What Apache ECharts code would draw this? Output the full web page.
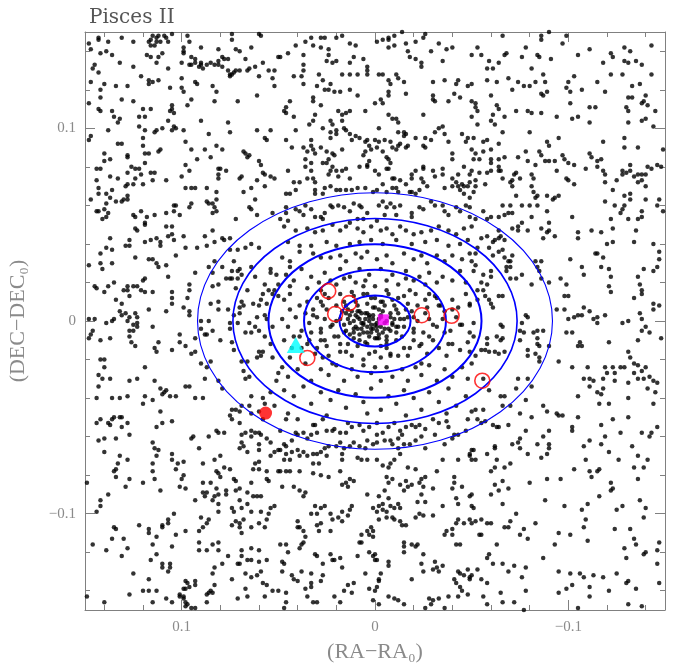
<!DOCTYPE html>
<html><head><meta charset="utf-8">
<script src="https://cdn.jsdelivr.net/npm/echarts@6.0.0/dist/echarts.min.js"></script>
<style>html,body{margin:0;padding:0;background:#fff}#c{width:678px;height:666px}</style>
</head><body><div id="c"></div>
<script>
// Star positions in units of 0.001 (RA-RA0, DEC-DEC0)
const starsNW=[[148,144],[147,141],[143,147],[143,146],[138,145],[131,147],[125,145],[117,145],[116,146],[115,148],[113,147],[113,145],[114,143],[116,143],[112,148],[109,148],[108,147],[111,145],[107,145],[105,149],[142,139],[139,140],[136,138],[132,134],[125,132],[118,138],[116,137],[113,134],[112,137],[110,139],[107,131],[121,127],[117,125],[117,123],[115,124],[112,125],[145,133],[146,131],[143,129],[147,124],[140,123],[134,122],[128,122],[142,120],[142,116],[148,113],[131,115],[125,114],[143,110],[142,109],[136,109],[135,106],[133,103],[132,105],[120,110],[116,110],[122,106],[119,106],[122,101],[119,99],[138,99],[147,96],[148,94],[120,95],[120,91],[133,92],[131,92],[114,98],[113,99],[110,100],[107,104],[106,109],[105,110],[104,108],[105,112],[105,99],[104,101],[103,100],[112,88],[111,89],[119,87],[140,87],[140,83],[137,84],[128,85],[128,86],[144,79],[142,79],[126,80],[124,79],[122,79],[119,82],[117,87],[116,77],[114,77],[137,75],[133,74],[128,77],[124,74],[121,76],[125,71],[120,71],[144,73],[115,73],[108,73],[143,69],[143,66],[139,66],[137,64],[136,68],[129,70],[128,71],[128,65],[130,63],[134,62],[131,62],[128,63],[147,63],[139,61],[144,57],[143,57],[140,58],[138,56],[139,54],[141,53],[125,55],[124,54],[121,57],[118,54],[114,55],[119,51],[108,56],[104,60],[103,60],[104,57],[101,55],[100,134],[99,142],[99,140],[99,139],[96,145],[97,148],[95,137],[93,136],[93,134],[95,133],[96,133],[90,142],[91,132],[90,133],[89,131],[90,134],[87,133],[85,134],[83,133],[81,133],[79,132],[81,135],[79,137],[78,136],[76,136],[81,141],[74,146],[74,149],[72,141],[70,140],[76,130],[75,128],[74,128],[73,129],[75,127],[72,130],[70,130],[66,130],[65,131],[67,136],[64,142],[60,149],[59,148],[62,132],[58,134],[55,130],[52,130],[53,126],[52,122],[60,127],[50,137],[93,124],[92,123],[100,126],[106,121],[100,121],[99,119],[95,115],[97,112],[84,122],[82,119],[83,114],[71,114],[61,117],[90,104],[99,99],[98,93],[95,89],[92,84],[88,89],[86,97],[85,85],[82,91],[79,89],[76,103],[75,98],[61,99],[57,95],[56,94],[54,99],[68,88],[67,87],[66,85],[65,86],[60,83],[59,81],[81,79],[80,79],[77,78],[81,76],[81,74],[98,81],[96,78],[100,75],[70,74],[69,75],[61,73],[58,77],[57,76],[54,75],[52,74],[98,69],[95,69],[93,69],[87,69],[64,69],[57,70],[82,67],[68,67],[87,62],[86,61],[84,61],[83,59],[82,57],[84,56],[82,63],[95,61],[96,59],[65,59],[64,58],[62,63],[61,55],[72,53],[53,56]];
const starsN=[[49,137],[45,139],[41,143],[36,145],[33,147],[32,143],[28,147],[26,147],[28,142],[24,141],[24,138],[25,135],[22,134],[20,135],[17,148],[13,144],[10,143],[6,136],[13,134],[11,137],[4,132],[4,130],[4,128],[9,128],[13,128],[17,128],[20,147],[-1,145],[-4,146],[-7,147],[-7,146],[-7,142],[-10,148],[-14,150],[-10,143],[-16,144],[-17,140],[-18,137],[-21,145],[-21,136],[-24,134],[-24,132],[-29,140],[-33,144],[-37,141],[-40,142],[-35,135],[-26,149],[-25,147],[37,138],[37,133],[37,130],[38,127],[37,123],[42,127],[29,128],[27,125],[30,122],[23,123],[26,120],[24,120],[21,119],[18,119],[13,120],[9,117],[-2,128],[-4,128],[-7,125],[-8,123],[-11,128],[-12,126],[-15,124],[-16,118],[-7,119],[-7,117],[-3,115],[-4,113],[0,113],[-30,124],[-30,117],[-31,114],[-30,115],[-36,125],[-38,114],[-42,123],[-43,125],[-41,118],[-44,116],[-48,122],[-50,114],[32,116],[32,114],[28,112],[46,111],[47,109],[46,108],[44,114],[42,106],[34,102],[32,104],[31,107],[27,100],[23,104],[22,102],[19,109],[17,107],[17,104],[15,108],[13,109],[23,98],[20,99],[20,97],[16,100],[5,109],[41,99],[46,94],[43,90],[37,90],[35,88],[36,84],[33,94],[33,91],[32,89],[31,87],[28,90],[25,88],[23,95],[22,87],[24,84],[21,86],[17,89],[15,99],[13,97],[12,94],[10,96],[8,95],[5,93],[4,94],[3,91],[2,89],[0,94],[-1,90],[5,88],[6,86],[3,83],[4,81],[-2,100],[-2,93],[-4,88],[-5,94],[-6,85],[-7,107],[-9,105],[-11,105],[-12,103],[-12,98],[-15,98],[-16,97],[-8,93],[-9,90],[-11,89],[-12,91],[-13,92],[-16,90],[-17,91],[-15,96],[-21,95],[-26,95],[-25,91],[-26,90],[-29,94],[-31,98],[-33,100],[-35,101],[-36,97],[-38,93],[-40,87],[-40,84],[-45,97],[-48,95],[-47,93],[-25,107],[45,78],[42,72],[39,72],[46,66],[44,66],[41,68],[35,74],[36,80],[33,78],[33,82],[32,74],[31,72],[31,68],[31,66],[27,82],[25,82],[23,78],[24,76],[22,80],[20,78],[19,75],[17,78],[15,79],[13,74],[8,80],[4,80],[0,78],[-2,76],[-4,71],[-6,79],[-7,79],[-7,84],[-8,82],[-9,74],[-10,74],[-13,73],[-16,71],[-19,74],[-19,76],[-21,78],[-25,79],[-25,80],[-24,74],[-25,72],[-27,70],[-23,68],[-19,67],[-21,66],[-18,67],[-11,69],[-9,69],[-12,67],[-6,67],[-1,68],[1,67],[5,69],[9,69],[12,68],[15,68],[18,68],[23,70],[20,68],[26,69],[27,66],[-30,78],[-31,75],[-35,79],[-35,76],[-36,69],[-40,70],[-42,72],[-43,70],[-45,71],[-46,70],[-48,70],[-49,72],[-44,68],[-46,66],[-49,64],[-43,76],[-46,80],[-40,74],[-50,78],[46,59],[46,56],[41,58],[39,57],[37,55],[36,60],[33,58],[31,54],[28,54],[26,56],[23,60],[22,59],[19,60],[16,59],[13,57],[11,61],[8,60],[7,59],[6,53],[4,56],[-2,60],[-4,62],[-6,59],[-8,61],[-10,59],[-11,55],[-13,60],[-19,54],[-19,56],[-23,59],[-25,58],[-29,62],[-31,60],[-35,60],[-36,57],[-38,55],[-42,59],[-44,57],[-47,60],[-49,59],[49,53],[45,52],[27,53],[13,51],[9,53],[-1,52],[-5,55]];
const starsNE=[[-66,148],[-86,148],[-86,146],[-90,150],[-99,148],[-97,144],[-53,142],[-55,138],[-50,138],[-68,139],[-67,138],[-78,142],[-76,137],[-84,138],[-85,137],[-91,136],[-105,138],[-111,141],[-122,139],[-123,137],[-118,134],[-129,142],[-132,140],[-129,135],[-131,134],[-135,135],[-138,133],[-143,143],[-59,135],[-58,131],[-61,131],[-64,134],[-81,131],[-87,128],[-69,126],[-74,124],[-77,122],[-80,122],[-83,124],[-88,124],[-89,119],[-87,117],[-86,118],[-71,120],[-63,124],[-58,125],[-50,123],[-60,117],[-100,124],[-99,121],[-101,119],[-107,120],[-103,127],[-115,124],[-119,119],[-122,128],[-128,128],[-133,122],[-137,123],[-143,128],[-140,117],[-133,116],[-131,116],[-52,113],[-52,111],[-53,109],[-50,106],[-63,112],[-64,110],[-61,107],[-60,104],[-62,102],[-67,106],[-73,109],[-79,109],[-81,108],[-86,108],[-94,106],[-101,113],[-102,105],[-105,106],[-111,111],[-114,111],[-111,103],[-130,111],[-131,109],[-138,113],[-139,114],[-141,112],[-145,109],[-131,103],[-138,104],[-140,105],[-144,101],[-51,95],[-53,102],[-66,98],[-80,98],[-89,93],[-90,91],[-95,95],[-64,92],[-56,93],[-58,94],[-50,89],[-52,87],[-56,88],[-60,89],[-54,84],[-51,84],[-60,84],[-60,82],[-64,84],[-67,85],[-74,85],[-78,88],[-79,83],[-85,88],[-86,86],[-88,83],[-90,83],[-97,86],[-98,84],[-100,82],[-103,81],[-93,83],[-83,81],[-64,80],[-65,78],[-64,78],[-60,78],[-58,77],[-54,77],[-52,73],[-49,76],[-57,71],[-52,70],[-51,67],[-66,74],[-71,73],[-73,77],[-72,76],[-70,72],[-75,74],[-81,76],[-82,74],[-71,70],[-73,65],[-81,70],[-82,67],[-84,65],[-83,64],[-89,65],[-92,63],[-93,64],[-99,74],[-100,73],[-103,71],[-94,78],[-109,79],[-111,87],[-112,85],[-115,83],[-117,84],[-115,80],[-118,78],[-119,76],[-119,72],[-118,93],[-129,95],[-129,90],[-136,90],[-128,78],[-130,77],[-132,81],[-132,78],[-134,75],[-136,76],[-138,76],[-140,76],[-138,73],[-140,70],[-136,72],[-128,76],[-125,73],[-141,80],[-143,79],[-146,81],[-148,80],[-149,89],[-123,68],[-129,65],[-132,66],[-132,63],[-129,60],[-128,58],[-124,60],[-127,56],[-122,53],[-131,53],[-138,57],[-138,54],[-140,63],[-146,60],[-147,63],[-149,57],[-136,53],[-119,62],[-102,54],[-89,57],[-90,51],[-84,60],[-80,60],[-76,60],[-70,60],[-66,60],[-67,55],[-71,56],[-69,56],[-64,54],[-60,54],[-56,57],[-52,53],[-49,54],[-58,53],[-81,54],[-76,51],[-95,65]];
const starsW=[[124,48],[123,47],[119,50],[108,49],[105,49],[105,45],[104,42],[107,44],[111,41],[111,39],[113,43],[116,42],[119,41],[127,42],[129,39],[127,39],[137,43],[139,38],[136,37],[142,35],[148,29],[142,30],[141,27],[136,30],[124,33],[117,32],[115,32],[113,30],[112,28],[108,29],[103,34],[99,44],[98,38],[92,38],[88,44],[87,39],[83,41],[84,47],[79,43],[78,42],[75,43],[75,37],[71,37],[73,31],[67,38],[64,40],[60,38],[83,31],[86,28],[84,25],[79,28],[74,26],[71,26],[70,27],[69,24],[71,22],[74,22],[75,22],[77,22],[64,28],[62,23],[54,27],[54,25],[51,24],[50,19],[52,16],[57,19],[55,16],[58,14],[59,11],[60,8],[56,9],[53,14],[50,13],[63,9],[66,16],[72,17],[81,19],[84,18],[96,19],[96,16],[93,25],[97,12],[99,7],[107,23],[119,22],[120,21],[123,18],[125,18],[128,18],[128,16],[127,13],[121,16],[119,15],[115,15],[145,18],[144,17],[140,15],[138,18],[135,20],[130,16],[134,11],[131,9],[132,5],[131,3],[129,4],[124,4],[123,2],[117,6],[135,1],[136,0],[139,-1],[145,1],[148,1],[127,2],[128,0],[125,-2],[127,-5],[125,-5],[123,-1],[123,-3],[115,-3],[127,-8],[126,-11],[146,-5],[147,-7],[148,-9],[142,-10],[137,-9],[124,-13],[114,-14],[113,-16],[112,-11],[105,-15],[101,-7],[101,-11],[105,9],[108,5],[105,15],[105,12],[96,5],[96,3],[90,0],[86,0],[84,-5],[90,-4],[88,-7],[93,-9],[95,-17],[93,-16],[98,-13],[142,-20],[140,-20],[140,-24],[143,-28],[141,-30],[143,-34],[137,-30],[127,-31],[123,-30],[119,-24],[114,-31],[111,-35],[109,-37],[108,-36],[106,-39],[103,-39],[110,-38],[119,-39],[115,-41],[120,-43],[128,-39],[132,-40],[136,-40],[144,-40],[135,-50],[131,-50],[111,-47],[98,-34],[96,-34],[93,-40],[89,-40],[90,-22],[87,-24],[88,-30],[85,-21],[81,-31],[79,-35],[74,-46],[72,-46],[70,-47],[69,-44],[65,-44],[64,-39],[65,-29],[67,-30],[68,-26],[73,-15],[74,-11],[69,-21],[66,-21],[61,-19],[60,-16],[59,-18],[58,-16],[54,-12],[53,-3],[57,-8],[60,-5],[62,-3],[64,-6],[67,-6],[65,-1],[71,-1],[75,-4],[75,-1],[73,3],[70,4],[70,7],[68,8],[61,2],[57,3],[56,1],[69,10],[76,6],[81,6],[81,10],[85,9],[80,-10],[87,-7],[53,-19],[51,-31],[50,-27],[54,-37],[52,-44],[58,-40],[57,-43],[60,-47],[64,-48],[75,-49]];
const starsE=[[-50,49],[-55,43],[-58,44],[-61,41],[-62,42],[-64,43],[-65,44],[-64,47],[-67,42],[-71,48],[-74,49],[-74,47],[-79,47],[-86,48],[-87,43],[-89,46],[-90,47],[-93,44],[-105,46],[-105,43],[-112,47],[-117,46],[-123,48],[-120,40],[-123,41],[-135,47],[-134,41],[-144,40],[-147,36],[-147,32],[-146,28],[-144,26],[-139,27],[-136,23],[-137,19],[-138,14],[-138,16],[-134,12],[-121,27],[-122,23],[-121,18],[-122,15],[-117,28],[-114,35],[-115,35],[-118,33],[-107,28],[-108,24],[-101,32],[-96,22],[-99,19],[-100,13],[-98,13],[-90,20],[-86,22],[-86,31],[-83,31],[-84,28],[-85,26],[-81,19],[-76,24],[-73,22],[-70,22],[-68,26],[-70,28],[-70,31],[-68,28],[-69,31],[-71,34],[-67,33],[-66,37],[-64,36],[-61,34],[-59,38],[-53,38],[-52,35],[-50,31],[-52,29],[-51,26],[-56,24],[-60,26],[-60,23],[-58,19],[-55,20],[-53,16],[-56,16],[-57,13],[-59,11],[-53,11],[-49,9],[-64,13],[-66,13],[-60,9],[-61,7],[-65,-2],[-66,-3],[-66,-9],[-65,-10],[-63,-8],[-58,-9],[-58,-12],[-57,-15],[-55,-15],[-52,-18],[-50,-22],[-49,-16],[-59,-16],[-62,-16],[-64,-17],[-51,-1],[-51,-8],[-76,-1],[-75,-5],[-78,3],[-79,2],[-82,-6],[-84,-5],[-84,-9],[-84,-12],[-85,-13],[-85,-19],[-85,-21],[-83,-17],[-79,-15],[-79,-18],[-87,-5],[-90,-13],[-94,6],[-98,6],[-100,1],[-103,2],[-105,3],[-107,3],[-108,7],[-111,5],[-113,1],[-115,-1],[-115,2],[-119,3],[-128,-1],[-131,0],[-137,4],[-138,1],[-144,9],[-147,8],[-144,6],[-140,-3],[-138,-5],[-142,-6],[-136,-10],[-148,-9],[-131,-16],[-132,-19],[-134,-22],[-136,-23],[-140,-24],[-138,-26],[-134,-27],[-129,-24],[-127,-24],[-123,-24],[-119,-24],[-124,-27],[-120,-27],[-118,-30],[-111,-30],[-113,-31],[-108,-30],[-110,-24],[-111,-34],[-118,-35],[-115,-37],[-117,-38],[-124,-31],[-131,-32],[-136,-30],[-139,-30],[-142,-29],[-144,-31],[-141,-35],[-145,-37],[-146,-32],[-131,-40],[-121,-43],[-116,-43],[-105,-39],[-102,-24],[-95,-21],[-99,-6],[-102,-6],[-106,-11],[-107,-13],[-105,-13],[-121,-11],[-144,-43],[-94,-48],[-95,-49],[-97,-49],[-89,-47],[-87,-44],[-75,-48],[-70,-44],[-66,-44],[-65,-39],[-67,-39],[-56,-46],[-52,-46],[-56,-30],[-59,-36],[-73,-35],[-74,-30],[-79,-30],[-81,-34],[-78,-41],[-67,-16],[-50,-47],[-77,-6],[-75,-10]];
const starsSW=[[142,-51],[136,-51],[132,-50],[138,-53],[137,-54],[144,-53],[128,-53],[131,-55],[127,-59],[143,-62],[140,-61],[134,-61],[140,-68],[132,-70],[128,-72],[133,-74],[134,-77],[135,-78],[134,-81],[127,-82],[129,-86],[138,-90],[142,-93],[142,-96],[144,-99],[149,-84],[120,-84],[115,-63],[114,-66],[112,-67],[113,-70],[113,-55],[105,-52],[105,-69],[105,-72],[102,-74],[99,-73],[103,-77],[115,-74],[115,-78],[114,-82],[111,-88],[101,-86],[100,-82],[99,-80],[98,-87],[95,-61],[94,-60],[91,-66],[86,-60],[82,-57],[81,-58],[78,-58],[80,-70],[83,-72],[89,-74],[82,-78],[81,-79],[80,-81],[78,-76],[75,-77],[73,-82],[72,-83],[74,-97],[77,-88],[72,-88],[70,-87],[66,-89],[64,-84],[70,-93],[69,-97],[66,-95],[63,-91],[61,-91],[59,-91],[54,-97],[52,-96],[55,-100],[56,-103],[57,-107],[59,-99],[64,-99],[68,-103],[60,-105],[64,-107],[70,-105],[70,-107],[69,-110],[72,-104],[74,-106],[73,-99],[77,-90],[82,-87],[81,-90],[83,-91],[84,-93],[81,-95],[81,-99],[87,-89],[89,-89],[89,-84],[85,-84],[88,-91],[93,-93],[90,-102],[89,-107],[86,-103],[87,-105],[91,-109],[91,-115],[84,-116],[81,-115],[87,-119],[91,-119],[81,-119],[79,-126],[76,-122],[71,-126],[69,-122],[69,-119],[64,-118],[60,-119],[66,-124],[64,-124],[60,-125],[56,-124],[59,-130],[67,-131],[64,-133],[61,-132],[74,-134],[67,-139],[66,-143],[58,-136],[56,-137],[53,-140],[50,-140],[57,-143],[71,-144],[70,-126],[83,-128],[84,-131],[83,-137],[85,-140],[86,-141],[84,-141],[87,-142],[87,-146],[93,-135],[93,-137],[96,-138],[98,-135],[97,-136],[99,-139],[98,-139],[101,-142],[101,-143],[99,-143],[99,-144],[98,-146],[97,-147],[95,-149],[98,-148],[93,-149],[105,-146],[108,-144],[113,-140],[115,-146],[117,-140],[120,-140],[127,-142],[140,-146],[125,-131],[117,-134],[110,-126],[110,-128],[106,-126],[106,-128],[107,-130],[113,-121],[116,-124],[128,-118],[131,-122],[130,-113],[136,-113],[139,-119],[146,-116],[135,-107],[134,-108],[122,-106],[117,-108],[117,-110],[113,-112],[115,-116],[110,-106],[110,-107],[107,-105],[107,-103],[103,-111],[98,-109],[104,-100],[105,-117],[110,-53],[149,-143],[58,-51],[60,-58],[59,-59],[56,-61],[54,-63],[54,-70],[52,-68],[50,-67],[60,-64],[60,-67],[69,-59],[69,-63],[68,-65],[70,-66],[66,-68],[64,-60],[62,-58],[64,-57],[67,-58],[70,-53],[74,-51],[60,-73],[62,-74],[60,-77],[56,-78],[56,-82],[55,-83],[50,-78],[63,-77]];
const starsS=[[46,-51],[40,-51],[32,-54],[27,-51],[31,-54],[49,-57],[47,-64],[46,-65],[43,-62],[41,-58],[40,-59],[37,-58],[35,-61],[33,-59],[30,-58],[25,-57],[22,-57],[21,-56],[18,-58],[15,-58],[12,-55],[14,-53],[8,-54],[6,-57],[3,-55],[-1,-59],[-1,-53],[-4,-58],[-7,-55],[-10,-53],[-12,-61],[-13,-57],[-14,-59],[-16,-55],[-19,-54],[-21,-55],[-23,-54],[-24,-60],[-26,-56],[-30,-51],[-33,-53],[-37,-52],[-38,-55],[-41,-59],[-47,-57],[-48,-51],[49,-67],[46,-69],[43,-68],[40,-67],[39,-70],[37,-68],[35,-70],[32,-69],[30,-69],[28,-68],[26,-66],[24,-65],[20,-65],[18,-63],[16,-66],[13,-65],[11,-63],[8,-65],[5,-66],[4,-62],[1,-64],[-1,-63],[-5,-62],[-8,-62],[-9,-64],[-12,-66],[-15,-64],[-18,-64],[-21,-62],[-26,-66],[-31,-59],[-36,-64],[-40,-61],[-43,-59],[-50,-67],[-49,-70],[-43,-72],[-35,-72],[-13,-69],[-10,-72],[-8,-74],[-7,-76],[-4,-75],[-1,-72],[4,-72],[9,-71],[7,-72],[17,-72],[17,-69],[25,-70],[32,-74],[29,-74],[47,-72],[44,-72],[49,-78],[46,-78],[44,-78],[39,-78],[32,-79],[28,-80],[24,-81],[18,-78],[13,-82],[15,-84],[17,-85],[14,-86],[11,-83],[4,-90],[-2,-91],[-5,-88],[-7,-84],[-9,-82],[-6,-81],[-16,-83],[-15,-88],[-17,-86],[-19,-85],[-13,-85],[-17,-76],[-21,-77],[-26,-81],[-24,-82],[-23,-84],[-25,-86],[-30,-87],[-32,-78],[-41,-81],[-41,-84],[-40,-87],[-45,-86],[-42,-92],[-49,-91],[-50,-96],[-43,-95],[-35,-96],[-30,-101],[-25,-101],[-23,-100],[-21,-102],[-22,-94],[-26,-94],[-24,-90],[-12,-95],[-13,-97],[-10,-97],[-8,-96],[-7,-92],[-4,-95],[-2,-96],[-1,-99],[-4,-98],[-6,-99],[-6,-102],[-9,-102],[-10,-103],[-13,-104],[-16,-106],[-14,-106],[-2,-103],[1,-97],[12,-96],[13,-98],[17,-99],[19,-102],[22,-103],[23,-100],[28,-97],[30,-100],[31,-96],[26,-96],[42,-86],[39,-88],[36,-89],[37,-91],[48,-86],[33,-100],[30,-106],[28,-105],[29,-109],[23,-109],[17,-104],[14,-101],[40,-104],[40,-107],[39,-107],[37,-109],[36,-112],[37,-115],[38,-116],[39,-118],[49,-116],[46,-116],[45,-120],[48,-125],[47,-126],[48,-130],[43,-132],[42,-134],[40,-135],[38,-130],[33,-131],[31,-121],[30,-122],[27,-126],[27,-132],[28,-135],[33,-136],[33,-138],[36,-139],[35,-143],[46,-141],[46,-146],[47,-149],[32,-146],[30,-146],[21,-143],[18,-146],[16,-140],[14,-137],[11,-136],[12,-141],[23,-121],[22,-124],[21,-124],[18,-123],[17,-128],[9,-122],[7,-111],[4,-109],[3,-111],[2,-107],[1,-109],[1,-112],[7,-115],[8,-115],[3,-120],[0,-121],[1,-122],[0,-124],[-1,-124],[-7,-125],[-7,-127],[-3,-131],[-2,-134],[-2,-135],[-1,-138],[0,-140],[3,-139],[5,-131],[1,-145],[-2,-147],[-7,-143],[-10,-144],[-12,-145],[-15,-147],[-15,-115],[-15,-117],[-15,-120],[-19,-116],[-21,-117],[-22,-116],[-25,-121],[-24,-126],[-25,-130],[-30,-129],[-31,-125],[-32,-128],[-33,-130],[-35,-127],[-36,-111],[-37,-109],[-40,-108],[-42,-105],[-43,-103],[-46,-105],[-49,-103],[-40,-111],[-42,-116],[-44,-116],[-43,-130],[-44,-131],[-46,-132],[-48,-129],[-49,-133],[-41,-134],[-42,-136],[-44,-138],[-45,-140],[-48,-142],[-43,-143],[-38,-143],[-33,-144],[-30,-145],[-28,-144],[-29,-147],[-26,-149],[-36,-149],[-19,-134]];
const starsSE=[[-53,-51],[-55,-53],[-57,-52],[-61,-54],[-63,-55],[-64,-55],[-69,-54],[-81,-50],[-78,-57],[-90,-57],[-87,-60],[-84,-64],[-90,-64],[-90,-66],[-75,-61],[-74,-63],[-71,-64],[-75,-66],[-62,-65],[-62,-66],[-51,-67],[-49,-69],[-52,-72],[-50,-72],[-58,-69],[-63,-72],[-62,-76],[-60,-78],[-67,-76],[-70,-74],[-79,-69],[-86,-71],[-89,-69],[-102,-55],[-102,-57],[-105,-50],[-117,-54],[-123,-51],[-131,-50],[-119,-60],[-111,-62],[-108,-65],[-117,-64],[-127,-58],[-138,-58],[-143,-58],[-142,-60],[-146,-55],[-133,-65],[-121,-68],[-126,-72],[-109,-72],[-111,-78],[-112,-81],[-115,-78],[-116,-77],[-103,-77],[-96,-82],[-89,-82],[-80,-84],[-66,-83],[-62,-85],[-64,-88],[-60,-90],[-69,-87],[-66,-95],[-50,-90],[-51,-97],[-88,-93],[-98,-96],[-107,-98],[-109,-103],[-108,-107],[-110,-95],[-116,-91],[-122,-84],[-123,-87],[-122,-88],[-128,-96],[-125,-98],[-134,-76],[-139,-76],[-136,-82],[-136,-70],[-141,-72],[-137,-93],[-140,-97],[-139,-102],[-132,-108],[-124,-108],[-134,-113],[-135,-116],[-139,-121],[-140,-120],[-146,-119],[-147,-115],[-146,-126],[-147,-136],[-130,-123],[-129,-118],[-135,-139],[-131,-135],[-130,-136],[-125,-131],[-121,-140],[-118,-133],[-113,-132],[-111,-138],[-111,-143],[-108,-133],[-106,-131],[-101,-131],[-102,-137],[-99,-139],[-95,-141],[-95,-130],[-87,-123],[-93,-116],[-95,-110],[-101,-111],[-110,-114],[-83,-105],[-79,-113],[-75,-111],[-77,-108],[-73,-100],[-70,-104],[-69,-107],[-67,-107],[-60,-105],[-58,-105],[-55,-103],[-52,-104],[-50,-105],[-55,-111],[-54,-111],[-63,-116],[-59,-121],[-58,-123],[-61,-126],[-66,-126],[-72,-127],[-69,-130],[-78,-128],[-76,-133],[-53,-129],[-50,-132],[-49,-134],[-55,-134],[-58,-136],[-65,-141],[-56,-143],[-58,-147],[-66,-146],[-72,-146],[-77,-150],[-78,-140],[-105,-149],[-131,-147],[-138,-148]];
const starsC=[[47,49],[41,47],[35,48],[31,46],[27,47],[22,50],[18,47],[15,49],[9,48],[6,46],[2,49],[-3,47],[-6,48],[-9,45],[-13,49],[-16,47],[-20,45],[-24,46],[-29,47],[-33,49],[-38,47],[-42,45],[-46,48],[45,41],[39,39],[33,39],[25,41],[20,39],[13,40],[8,41],[2,42],[-4,40],[-11,42],[-19,40],[-26,41],[-32,42],[-38,39],[-44,40],[-48,42],[48,33],[44,31],[39,36],[32,35],[28,33],[23,33],[18,34],[15,31],[10,35],[7,33],[4,36],[-1,32],[-6,34],[-9,30],[-15,35],[-20,32],[-24,34],[-27,30],[-32,34],[-36,31],[-40,34],[-45,32],[-49,35],[44,28],[46,24],[42,21],[38,27],[33,23],[29,20],[26,25],[23,21],[20,19],[18,27],[13,23],[10,20],[8,27],[5,21],[3,24],[0,18],[-3,27],[-6,21],[-9,24],[-12,19],[-16,26],[-20,21],[-23,23],[-26,19],[-28,25],[-32,20],[-35,23],[-40,21],[-44,26],[-47,20],[44,18],[35,17],[28,16],[47,11],[44,14],[39,8],[35,10],[32,6],[30,12],[27,8],[26,14],[18,14],[16,10],[15,8],[11,13],[9,8],[8,5],[6,14],[4,9],[2,12],[0,7],[-3,10],[-5,8],[-7,14],[-9,11],[-11,6],[-15,13],[-17,9],[-19,5],[-21,14],[-26,11],[-27,7],[-31,13],[-33,8],[-36,5],[-40,11],[-43,7],[-47,14],[-49,8],[48,1],[45,-3],[41,2],[38,-5],[34,-1],[32,3],[28,-6],[26,1],[23,-3],[18,1],[16,-2],[15,-5],[13,3],[11,0],[9,-4],[9,2],[7,-1],[6,-6],[5,1],[4,-3],[3,0],[2,-6],[1,3],[0,-2],[-1,-5],[-2,1],[-3,-3],[-3,2],[-4,-6],[-6,0],[-7,-4],[-8,2],[-9,-2],[-11,-6],[-13,1],[-15,-3],[-17,2],[-20,-4],[-22,0],[-25,-6],[-28,1],[-32,-3],[-35,1],[-39,-5],[-42,2],[-45,-2],[-49,-6],[4,4],[8,-7],[11,-6],[2,-4],[47,-10],[43,-14],[39,-8],[35,-12],[31,-17],[28,-10],[25,-13],[21,-8],[18,-12],[15,-16],[11,-9],[9,-13],[5,-11],[3,-17],[0,-9],[-3,-13],[-6,-12],[-8,-17],[-11,-10],[-15,-14],[-17,-18],[-20,-10],[-23,-13],[-27,-17],[-30,-10],[-33,-14],[-37,-18],[-40,-12],[-44,-15],[-48,-11],[44,-19],[27,-19],[-3,-19],[48,-24],[45,-29],[40,-25],[36,-22],[33,-31],[28,-25],[24,-28],[20,-23],[16,-31],[12,-25],[9,-29],[6,-23],[2,-27],[-3,-31],[-6,-24],[-9,-29],[-14,-25],[-17,-31],[-21,-24],[-24,-28],[-28,-23],[-32,-31],[-36,-25],[-40,-29],[-45,-24],[-48,-30],[47,-36],[42,-39],[37,-34],[33,-43],[28,-37],[23,-41],[19,-36],[15,-45],[10,-38],[6,-42],[2,-35],[-3,-46],[-7,-39],[-11,-43],[-15,-36],[-20,-40],[-24,-46],[-28,-37],[-33,-42],[-38,-35],[-42,-44],[-47,-39],[45,-48],[25,-49],[4,-48],[-16,-49],[-37,-48],[12,5],[10,-3],[8,1],[7,-4],[6,-1],[4,-6],[3,3],[1,1],[1,-4],[-1,-1],[-2,-7],[-4,5],[-5,-4],[-6,-8],[-8,4],[-8,-5],[-10,1],[-11,-3],[-12,4],[7,4],[3,-8],[-1,-9],[10,3],[14,1],[13,-7],[15,4],[20,8],[17,5],[22,-2],[19,-8],[14,-12],[25,6],[28,-4],[26,-10],[30,2],[33,-6],[24,12],[12,15],[6,18],[0,12],[-6,16],[-12,12],[-18,16],[-22,8],[-26,4],[-30,-2],[-28,-8],[-24,-12],[-18,-14],[-12,-18],[-6,-14],[0,-16],[6,-20],[12,-18],[18,-16],[24,-18],[30,-14],[34,-10],[-34,8],[-36,-6],[-32,12],[-10,8],[-14,-8],[-4,10],[4,-12],[10,10],[14,6],[-2,6],[-6,-10],[8,-10],[-16,6],[-20,-6],[16,-6],[2,-2],[5,4],[-1,-3],[3,2],[-3,3],[6,-2],[-5,-1],[9,5],[-9,-1],[11,-4],[-12,-3],[1,7],[-2,-9],[13,-1],[-15,1],[20,0],[-20,2],[4,14],[-8,-18],[28,10],[-28,14],[36,4],[-38,-12],[-40,6],[38,-14],[22,-22],[-24,-22],[0,-24],[16,22],[-16,22],[42,-8],[-44,-2],[44,6]];
// Special objects (data units)
const redOpen=[[0.0242,0.0155],[0.0134,0.0093],[0.0206,0.0036],[-0.0242,0.0030],[-0.0396,0.0027],[0.0350,-0.0192],[-0.0555,-0.0310]];
const magentaSquare=[[-0.0043,0.0006]];
const cyanTriangle=[[0.0410,-0.0124]];
const redFilled=[[0.0566,-0.0478]];
// Concentric ellipses: semi-axes in RA and DEC
const ellipseA=[0.0184,0.0367,0.0551,0.0735,0.0918];
const ellipseB=[0.0133,0.0266,0.0399,0.0532,0.0666];
const ellipseWidth=[2,2,2,1.6,1.1];
// Ticks
const majorTicks=[0.1,0,-0.1];
const minorTicks=[-0.14,-0.12,-0.1,-0.08,-0.06,-0.04,-0.02,0,0.02,0.04,0.06,0.08,0.1,0.12,0.14];

const stars=[].concat(starsNW,starsN,starsNE,starsW,starsC,starsE,starsSW,starsS,starsSE).map(p=>[p[0]/1000,p[1]/1000]);
const ellipseData=ellipseA.map((a,i)=>[a,ellipseB[i],ellipseWidth[i]]);

const frameColor='#808080';
const labelColor='#8a8a8a';
const serif='"Liberation Serif","DejaVu Serif",serif';
const fmt=v=>v===0?'0':(v<0?'\u2212'+String(Math.abs(v)):String(v));

function axis(dim,pos,ticks,len,opts){
  const o={type:'value',position:pos,min:-0.15,max:0.15,inverse:dim==='x',
    axisLine:{show:!!opts.line,onZero:false,lineStyle:{color:frameColor,width:1}},
    axisTick:{show:true,inside:true,length:len,customValues:ticks,lineStyle:{color:frameColor,width:1}},
    axisLabel:{show:!!opts.label},splitLine:{show:false},axisPointer:{show:false}};
  if(opts.label){
    o.axisLabel={show:true,customValues:majorTicks,formatter:fmt,color:labelColor,fontFamily:serif,fontSize:15,margin:dim==='x'?10:9};
  }
  if(opts.name){
    o.name=opts.name;o.nameLocation='middle';o.nameGap=dim==='x'?31:56;
    o.nameTextStyle={color:'#8a8a8a',fontFamily:serif,fontSize:22};
  }
  return o;
}

const chart=echarts.init(document.getElementById('c'),null,{renderer:'canvas'});
chart.setOption({
  animation:false,
  backgroundColor:'#fff',
  title:{text:'Pisces II',left:84,top:3,textStyle:{fontFamily:'"DejaVu Serif",serif',fontSize:20,fontWeight:'normal',color:'#555'}},
  grid:{left:85,right:13,top:32,bottom:56,containLabel:false,outerBoundsMode:'none'},
  xAxis:[
    axis('x','bottom',majorTicks,10,{line:true,label:true,name:'(RA\u2212RA\u2080)'}),
    axis('x','bottom',minorTicks,5,{}),
    axis('x','top',majorTicks,10,{line:true}),
    axis('x','top',minorTicks,5,{})
  ],
  yAxis:[
    axis('y','left',majorTicks,10,{line:true,label:true,name:'(DEC\u2212DEC\u2080)'}),
    axis('y','left',minorTicks,5,{}),
    axis('y','right',majorTicks,10,{line:true}),
    axis('y','right',minorTicks,5,{})
  ],
  series:[
    {type:'scatter',data:stars,symbol:'circle',symbolSize:4.5,itemStyle:{color:'#000'},silent:true,z:2},
    {type:'custom',data:ellipseData,silent:true,z:3,
      renderItem:function(params,api){
        const a=api.value(0),b=api.value(1),w=api.value(2);
        const c=api.coord([0,0]);
        const rx=Math.abs(api.size([a,0])[0]);
        const ry=Math.abs(api.size([0,b])[1]);
        const d='M '+(c[0]-rx)+' '+c[1]+' A '+rx+' '+ry+' 0 1 0 '+(c[0]+rx)+' '+c[1]+' A '+rx+' '+ry+' 0 1 0 '+(c[0]-rx)+' '+c[1]+' Z';
        return {type:'path',shape:{pathData:d},style:{fill:'none',stroke:'#0000ff',lineWidth:w}};
      }},
    {type:'scatter',data:redOpen,symbol:'circle',symbolSize:15,itemStyle:{color:'rgba(0,0,0,0)',borderColor:'#ff0000',borderWidth:1.6},silent:true,z:5},
    {type:'scatter',data:magentaSquare,symbol:'rect',symbolSize:11,itemStyle:{color:'#ff00ff'},silent:true,z:5},
    {type:'scatter',data:cyanTriangle,symbol:'triangle',symbolSize:[18,16],itemStyle:{color:'#00ffff'},silent:true,z:5},
    {type:'scatter',data:redFilled,symbol:'circle',symbolSize:13,itemStyle:{color:'#ff0000'},silent:true,z:5}
  ]
});
</script></body></html>
